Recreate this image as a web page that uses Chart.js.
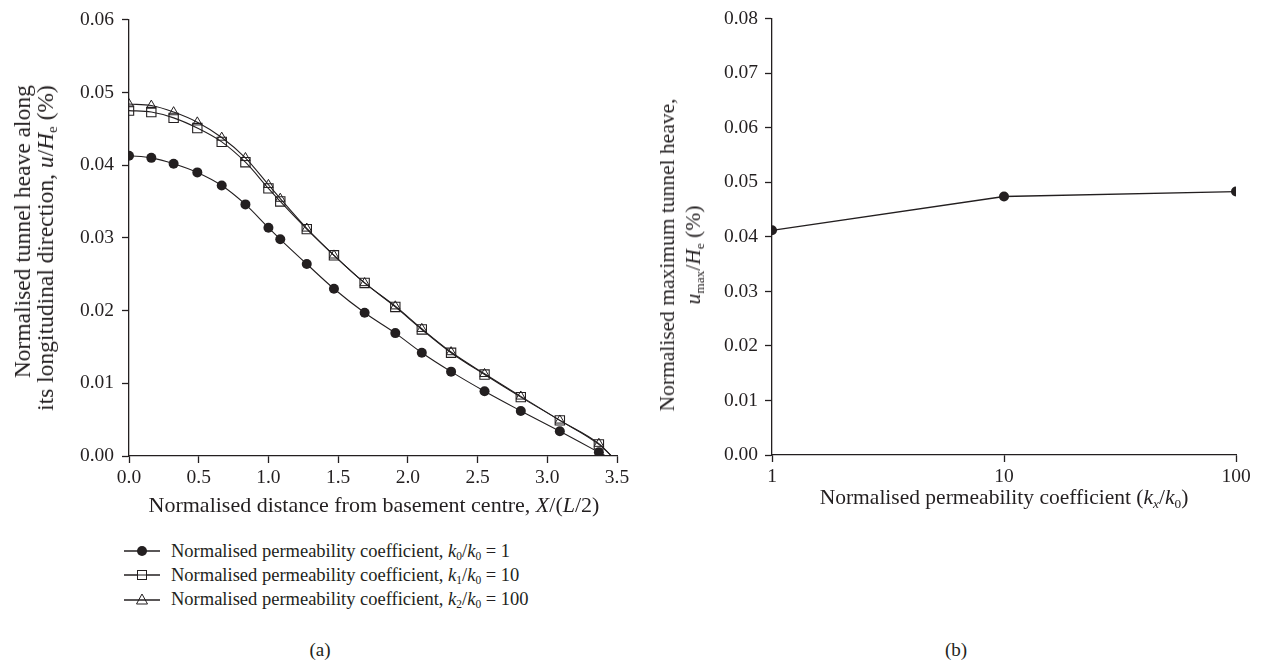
<!DOCTYPE html>
<html>
<head>
<meta charset="utf-8">
<script src="https://cdn.jsdelivr.net/npm/chart.js@4/dist/chart.umd.min.js"></script>
<style>
  html, body { margin: 0; padding: 0; background: #fff; }
  body { width: 1268px; height: 665px; position: relative; overflow: hidden;
         font-family: 'Liberation Serif', 'DejaVu Serif', serif; color: #231f20; font-size: 19px; }
  canvas { position: absolute; top: 0; }
  #chart-a { left: 0; }
  #chart-b { left: 640px; }
  .txt { position: absolute; white-space: nowrap; line-height: 1; }
  .ctr { transform: translate(-50%, -50%); }
  .rot { transform: translate(-50%, -50%) rotate(-90deg); text-align: center; line-height: 23px; }
  sub { font-size: 0.62em; vertical-align: -0.3em; line-height: 0; }
  .leg { position: absolute; left: 124px; height: 24px; display: flex; align-items: center; white-space: nowrap; font-size: 18.5px; }
  .leg svg { margin-right: 11px; }
</style>
</head>
<body>
<canvas id="chart-a" width="640" height="500"></canvas>
<canvas id="chart-b" width="628" height="500"></canvas>

<!-- axis titles, legend and panel labels -->
<div class="txt rot" style="left:34px; top:248px; font-size:23.5px; text-align:right;">Normalised tunnel heave along<br>its longitudinal direction, <i>u</i>/<i>H</i><sub>e</sub> (%)</div>
<div class="txt ctr" style="left:374px; top:505px; font-size:22px;">Normalised distance from basement centre, <i>X</i>/(<i>L</i>/2)</div>

<div class="leg" style="top:539px;"><svg width="36" height="14"><line x1="0" y1="7" x2="36" y2="7" stroke="#231f20" stroke-width="1.4"/><circle cx="18" cy="7" r="5" fill="#231f20"/></svg><span>Normalised permeability coefficient, <i>k</i><sub>0</sub>/<i>k</i><sub>0</sub> = 1</span></div>
<div class="leg" style="top:563px;"><svg width="36" height="14"><line x1="0" y1="7" x2="36" y2="7" stroke="#231f20" stroke-width="1.4"/><rect x="13.5" y="2.5" width="9" height="9" fill="#fff" stroke="#231f20" stroke-width="1"/><line x1="13.5" y1="7" x2="22.5" y2="7" stroke="#231f20" stroke-width="1"/></svg><span>Normalised permeability coefficient, <i>k</i><sub>1</sub>/<i>k</i><sub>0</sub> = 10</span></div>
<div class="leg" style="top:587px;"><svg width="36" height="14"><line x1="0" y1="8" x2="36" y2="8" stroke="#231f20" stroke-width="1.4"/><polygon points="18,2 23.5,12 12.5,12" fill="none" stroke="#231f20" stroke-width="1"/></svg><span>Normalised permeability coefficient, <i>k</i><sub>2</sub>/<i>k</i><sub>0</sub> = 100</span></div>

<div class="txt ctr" style="left:320px; top:649px;">(a)</div>

<div class="txt rot" style="left:680px; top:255px; line-height:26px; font-size:21.5px;">Normalised maximum tunnel heave,<br><i>u</i><sub>max</sub>/<i>H</i><sub>e</sub> (%)</div>
<div class="txt ctr" style="left:1004px; top:498px; font-size:21.5px;">Normalised permeability coefficient (<i>k</i><sub><i>x</i></sub>/<i>k</i><sub>0</sub>)</div>
<div class="txt ctr" style="left:956px; top:649px;">(b)</div>

<script>
// ── Panel (a): heave along the tunnel ──────────────────
const X_DIST   = [0, 0.16, 0.32, 0.49, 0.665, 0.835, 1.0, 1.085, 1.275, 1.47, 1.69, 1.91, 2.10, 2.31, 2.55, 2.81, 3.09, 3.37];
const HEAVE_K0 = [0.0413, 0.0410, 0.0402, 0.0390, 0.0372, 0.0346, 0.0314, 0.0298, 0.0264, 0.0230, 0.0197, 0.0169, 0.0142, 0.0116, 0.0089, 0.0062, 0.0034, 0.0005];
const HEAVE_K1 = [0.0475, 0.0473, 0.0465, 0.0451, 0.0432, 0.0404, 0.0368, 0.0350, 0.0312, 0.0276, 0.0238, 0.0205, 0.0174, 0.0142, 0.0112, 0.0081, 0.0049, 0.0016];
const HEAVE_K2 = [0.0484, 0.0482, 0.0473, 0.0459, 0.0438, 0.0410, 0.0373, 0.0354, 0.0313, 0.0276, 0.0238, 0.0206, 0.0175, 0.0143, 0.0113, 0.0082, 0.0049, 0.0017];
// where each curve runs out onto the x axis (no marker there)
const ZERO_X   = [3.42, 3.46, 3.46];
const X_TICKS_A = [0, 0.5, 1.0, 1.5, 2.0, 2.5, 3.0, 3.5];

// ── Panel (b): maximum heave vs permeability ratio ─────
const K_RATIO   = [1, 10, 100];
const MAX_HEAVE = [0.0412, 0.0474, 0.0483];

const INK  = '#231f20';
const FONT = { family: "'Liberation Serif', 'DejaVu Serif', serif", size: 19.5 };

function series(ys, endX) {
  const pts = X_DIST.map((x, i) => ({ x, y: ys[i] }));
  pts.push({ x: endX, y: 0 });
  return pts;
}
// markers on every point except the run-out point
const radii = r => X_DIST.map(() => r).concat([0]);

function axisStyle(extra) {
  return Object.assign({
    border: { display: true, color: INK, width: 1.3 },
    grid:   { display: true, drawOnChartArea: false, drawTicks: true, tickLength: 7, tickWidth: 1.3, tickColor: INK },
  }, extra);
}

new Chart(document.getElementById('chart-a'), {
  type: 'line',
  data: {
    datasets: [
      { data: series(HEAVE_K0, ZERO_X[0]), borderColor: INK, borderWidth: 1.1, pointStyle: 'circle',
        pointRadius: radii(5), pointBackgroundColor: INK, pointBorderColor: INK, pointBorderWidth: 0 },
      { data: series(HEAVE_K1, ZERO_X[1]), borderColor: INK, borderWidth: 1.1, pointStyle: 'rect',
        pointRadius: radii(6.6), pointBackgroundColor: 'rgba(0,0,0,0)', pointBorderColor: INK, pointBorderWidth: 1.1 },
      { data: series(HEAVE_K2, ZERO_X[2]), borderColor: INK, borderWidth: 1.1, pointStyle: 'triangle',
        pointRadius: radii(5.4), pointBackgroundColor: 'rgba(0,0,0,0)', pointBorderColor: INK, pointBorderWidth: 1 }
    ]
  },
  options: {
    responsive: false,
    animation: false,
    cubicInterpolationMode: 'monotone',
    layout: { padding: { top: 17, right: 23, left: 0, bottom: 0 } },
    plugins: { legend: { display: false }, tooltip: { enabled: false } },
    scales: {
      x: axisStyle({
        type: 'linear', min: 0, max: 3.5,
        afterBuildTicks: s => { s.ticks = X_TICKS_A.map(v => ({ value: v })); },
        afterFit: s => { s.height = 44; },
        ticks: { color: INK, font: FONT, padding: 3, maxRotation: 0, callback: v => v.toFixed(1) }
      }),
      y: axisStyle({
        min: 0, max: 0.06,
        afterFit: s => { s.width = 129; },
        ticks: { color: INK, font: FONT, padding: 8, stepSize: 0.01, callback: v => v.toFixed(2) }
      })
    }
  }
});

new Chart(document.getElementById('chart-b'), {
  type: 'line',
  data: {
    datasets: [
      { data: K_RATIO.map((k, i) => ({ x: k, y: MAX_HEAVE[i] })), borderColor: INK, borderWidth: 1.3,
        pointStyle: 'circle', pointRadius: 5, pointBackgroundColor: INK, pointBorderWidth: 0, tension: 0 }
    ]
  },
  options: {
    responsive: false,
    animation: false,
    layout: { padding: { top: 16, right: 32, left: 0, bottom: 0 } },
    plugins: { legend: { display: false }, tooltip: { enabled: false } },
    scales: {
      x: axisStyle({
        type: 'logarithmic', min: 1, max: 100,
        afterBuildTicks: s => { s.ticks = K_RATIO.map(v => ({ value: v })); },
        afterFit: s => { s.height = 45; },
        ticks: { color: INK, font: FONT, padding: 3, maxRotation: 0, callback: v => String(v) }
      }),
      y: axisStyle({
        min: 0, max: 0.08,
        afterFit: s => { s.width = 132; },
        ticks: { color: INK, font: FONT, padding: 7, stepSize: 0.01, callback: v => v.toFixed(2) }
      })
    }
  }
});
</script>
</body>
</html>
